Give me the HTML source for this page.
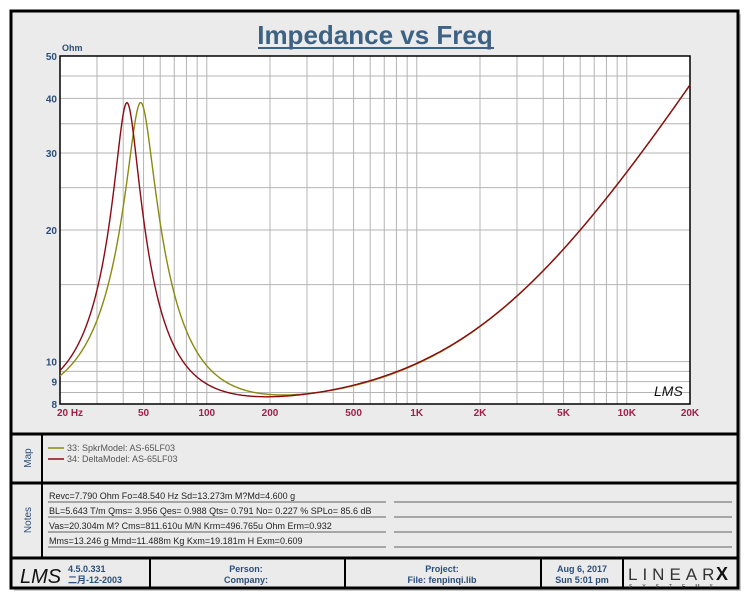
<!DOCTYPE html>
<html><head><meta charset="utf-8"><style>
body{margin:0;background:#fff;width:750px;height:600px;overflow:hidden}
svg text{font-family:"Liberation Sans","Noto Sans CJK SC",sans-serif}
</style></head><body>
<svg id="s" width="750" height="600" xmlns="http://www.w3.org/2000/svg">
<rect x="14" y="14" width="727" height="577" fill="#999" opacity="0.5"/>
<rect x="11" y="11" width="727" height="577" fill="#ebebeb" stroke="#000" stroke-width="3"/>
<text x="375" y="44" text-anchor="middle" font-size="26" font-weight="bold" fill="#3d6284">Impedance vs Freq</text>
<rect x="258" y="47" width="236" height="2" fill="#3d6284"/>
<rect x="60" y="56" width="630" height="348" fill="#fff"/>
<g id="grid" stroke="#b4b4b4" stroke-width="1"></g>
<rect x="60" y="56" width="630" height="348" fill="none" stroke="#000" stroke-width="1.5"/>
<text x="62" y="51" font-size="9" font-weight="bold" fill="#2a4e7a">Ohm</text>
<g font-size="10" font-weight="bold" fill="#2a4e7a" text-anchor="end" id="yl"></g>
<g font-size="10" font-weight="bold" fill="#a0204a" text-anchor="middle" id="xl"></g>
<path id="p1" fill="none" stroke="#8a8a10" stroke-width="1.4"/>
<path id="p2" fill="none" stroke="#8b0a14" stroke-width="1.4"/>
<text x="654" y="396" font-size="14" font-style="italic" fill="#111" font-family="Liberation Serif,serif">LMS</text>
<line x1="11" y1="434" x2="738" y2="434" stroke="#000" stroke-width="3"/>
<line x1="11" y1="483" x2="738" y2="483" stroke="#000" stroke-width="3"/>
<line x1="11" y1="558" x2="738" y2="558" stroke="#000" stroke-width="3"/>
<line x1="42" y1="434" x2="42" y2="558" stroke="#000" stroke-width="2"/>
<text transform="translate(31,458) rotate(-90)" text-anchor="middle" font-size="10" fill="#2a4e7a">Map</text>
<text transform="translate(31,520) rotate(-90)" text-anchor="middle" font-size="10" fill="#2a4e7a">Notes</text>
<line x1="48" y1="448" x2="64" y2="448" stroke="#8a8a10" stroke-width="1.5"/>
<line x1="48" y1="459" x2="64" y2="459" stroke="#8b0a14" stroke-width="1.5"/>
<text x="67" y="451" font-size="9" fill="#555">33: SpkrModel: AS-65LF03</text>
<text x="67" y="462" font-size="9" fill="#555">34: DeltaModel: AS-65LF03</text>
<g font-size="9" fill="#222">
<text x="49" y="499">Revc=7.790 Ohm  Fo=48.540 Hz  Sd=13.273m M?Md=4.600 g</text>
<text x="49" y="514">BL=5.643 T/m  Qms= 3.956  Qes= 0.988  Qts= 0.791  No= 0.227 %  SPLo= 85.6 dB</text>
<text x="49" y="529">Vas=20.304m M?  Cms=811.610u M/N  Krm=496.765u Ohm  Erm=0.932</text>
<text x="49" y="544">Mms=13.246 g  Mmd=11.488m Kg  Kxm=19.181m H  Exm=0.609</text>
</g>
<g stroke="#333" stroke-width="0.8">
<line x1="48" y1="502" x2="386" y2="502"/><line x1="394" y1="502" x2="732" y2="502"/>
<line x1="48" y1="517" x2="386" y2="517"/><line x1="394" y1="517" x2="732" y2="517"/>
<line x1="48" y1="532" x2="386" y2="532"/><line x1="394" y1="532" x2="732" y2="532"/>
<line x1="48" y1="547" x2="386" y2="547"/><line x1="394" y1="547" x2="732" y2="547"/>
</g>
<g stroke="#000" stroke-width="2">
<line x1="150" y1="558" x2="150" y2="588"/><line x1="345" y1="558" x2="345" y2="588"/>
<line x1="541" y1="558" x2="541" y2="588"/><line x1="623" y1="558" x2="623" y2="588"/>
</g>
<text x="20" y="583" font-size="20" font-style="italic" fill="#111" font-family="Liberation Serif,serif">LMS</text>
<g font-size="9" font-weight="bold" fill="#2a4e7a">
<text x="68" y="572">4.5.0.331</text>
<text x="68" y="583">二月-12-2003</text>
<text x="246" y="572" text-anchor="middle">Person:</text>
<text x="246" y="583" text-anchor="middle">Company:</text>
<text x="442" y="572" text-anchor="middle">Project:</text>
<text x="442" y="583" text-anchor="middle">File: fenpinqi.lib</text>
<text x="582" y="572" text-anchor="middle">Aug  6, 2017</text>
<text x="582" y="583" text-anchor="middle">Sun  5:01 pm</text>
</g>
<text x="628" y="580" font-size="17" fill="#333" font-family="Liberation Serif,serif" letter-spacing="5">LINEAR</text>
<text x="716" y="580" font-size="18" font-weight="bold" fill="#111">X</text>
<text x="629" y="588" font-size="5" fill="#333" letter-spacing="10">SYSTEMS</text>
</svg>
<script>
var NS="http://www.w3.org/2000/svg";
function X(f){return 60+210*Math.log10(f/20);}
function Y(v){return 404-348*Math.log10(v/8)/Math.log10(50/8);}
var g=document.getElementById('grid');
function ln(x1,y1,x2,y2){var l=document.createElementNS(NS,'line');l.setAttribute('x1',x1);l.setAttribute('y1',y1);l.setAttribute('x2',x2);l.setAttribute('y2',y2);g.appendChild(l);}
[10,100,1000,10000].forEach(function(d){for(var m=1;m<10;m++){var f=d*m;if(f>20&&f<20000){var x=X(f);ln(x,56,x,404);}}});
[8.5,9,9.5,10,15,20,25,30,35,40,45].forEach(function(v){ln(60,Y(v),690,Y(v));});
var yl=document.getElementById('yl');
[8,9,10,20,30,40,50].forEach(function(v){var t=document.createElementNS(NS,'text');t.setAttribute('x',57);t.setAttribute('y',Y(v)+4);t.textContent=v;yl.appendChild(t);});
var xl=document.getElementById('xl');
[[20,'20  Hz'],[50,'50'],[100,'100'],[200,'200'],[500,'500'],[1000,'1K'],[2000,'2K'],[5000,'5K'],[10000,'10K'],[20000,'20K']].forEach(function(a){var t=document.createElementNS(NS,'text');var x=X(a[0]);if(a[0]==20)x+=10;t.setAttribute('x',x);t.setAttribute('y',416);t.textContent=a[1];xl.appendChild(t);});
function curve(fs,Q,Res){var Re=7.79,n=0.76,a=4.05;var d="";
for(var i=0;i<=630;i++){var f=20*Math.pow(10,i/210);var u=Q*(f/fs-fs/f);var den=1+u*u;var mr=Res/den,mi=-Res*u/den;
var A=a*Math.pow(f/1000,n);var r=Re+mr+A*Math.cos(n*Math.PI/2),im=mi+A*Math.sin(n*Math.PI/2);var z=Math.sqrt(r*r+im*im);
var y=Y(z);d+=(i?"L":"M")+(60+i).toFixed(1)+" "+y.toFixed(1);}return d;}
document.getElementById('p1').setAttribute('d',curve(48.5,3.956,31.2));
document.getElementById('p2').setAttribute('d',curve(41.7,4.5,31.2));
</script>
</body></html>
